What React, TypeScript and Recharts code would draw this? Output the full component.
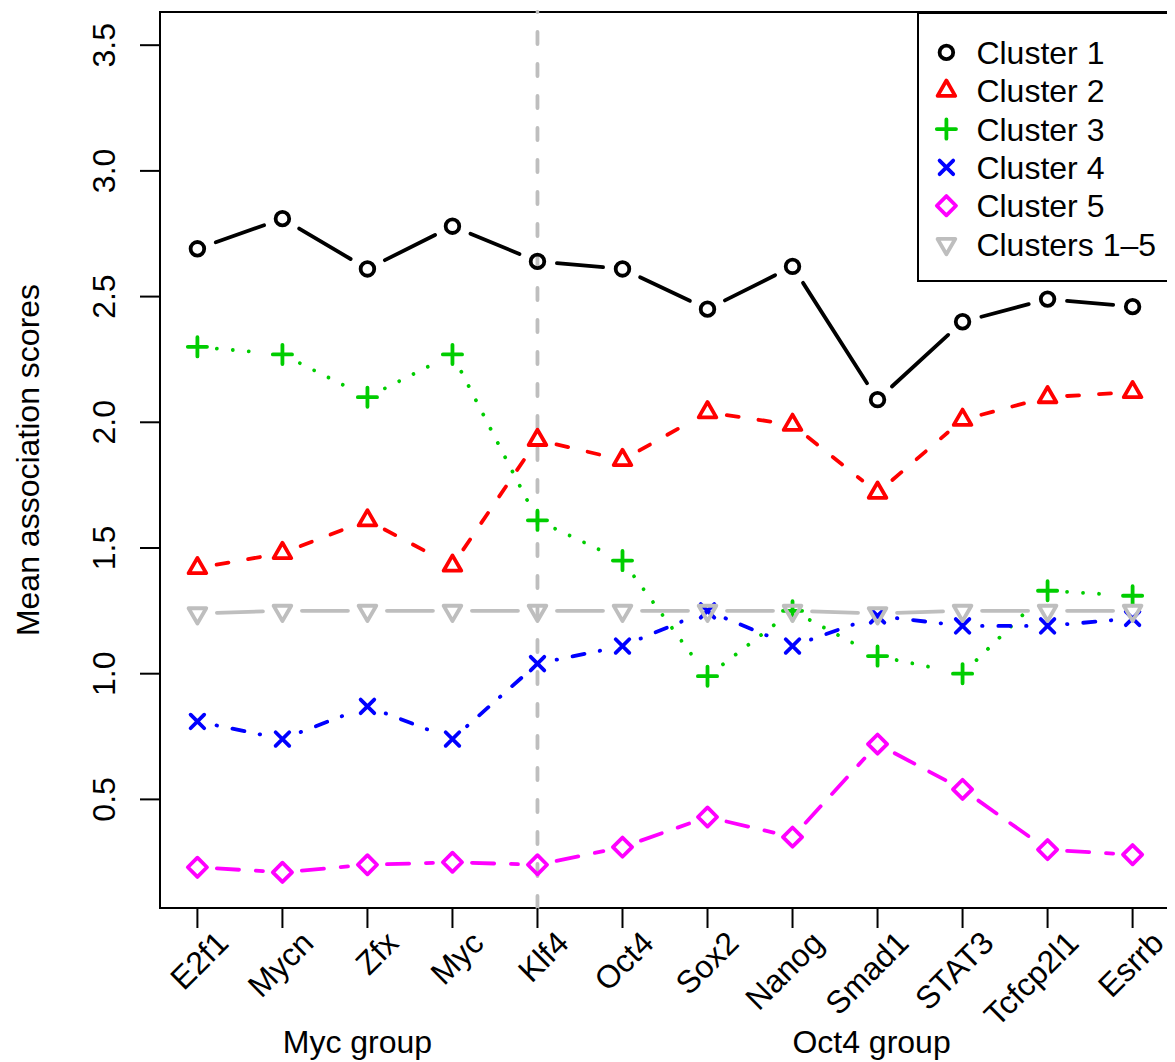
import React from 'react';
import { LineChart, Line, XAxis, YAxis, ReferenceLine, ReferenceArea } from 'recharts';

const categories = ['E2f1', 'Mycn', 'Zfx', 'Myc', 'Klf4', 'Oct4', 'Sox2', 'Nanog', 'Smad1', 'STAT3', 'Tcfcp2l1', 'Esrrb'];
const cluster1 = [2.69, 2.81, 2.61, 2.78, 2.64, 2.61, 2.45, 2.62, 2.09, 2.40, 2.49, 2.46];
const cluster2 = [1.42, 1.48, 1.61, 1.43, 1.93, 1.85, 2.04, 1.99, 1.72, 2.01, 2.10, 2.12];
const cluster3 = [2.30, 2.27, 2.10, 2.27, 1.61, 1.45, 0.99, 1.25, 1.07, 1.00, 1.33, 1.31];
const cluster4 = [0.81, 0.74, 0.87, 0.74, 1.04, 1.11, 1.25, 1.11, 1.23, 1.19, 1.19, 1.22];
const cluster5 = [0.23, 0.21, 0.24, 0.25, 0.24, 0.31, 0.43, 0.35, 0.72, 0.54, 0.30, 0.28];
const clustersAll = [1.24, 1.25, 1.25, 1.25, 1.25, 1.25, 1.25, 1.25, 1.24, 1.25, 1.25, 1.25];
const seriesLabels = ['Cluster 1', 'Cluster 2', 'Cluster 3', 'Cluster 4', 'Cluster 5', 'Clusters 1\u20135'];
const yTicks = [0.5, 1.0, 1.5, 2.0, 2.5, 3.0, 3.5];
const yLimits = [0.2, 3.5];
const groupLabels = ['Myc group', 'Oct4 group'];
const groupAnchors = ['Zfx', 'Smad1'];
const dividerAt = 'Klf4';
const yTitle = 'Mean association scores';

const FONT = "'Liberation Sans', Arial, Helvetica, sans-serif";
const FS = 32;
const LW = 3.8;
const GAP = 19.5;

const seriesValues = [cluster1, cluster2, cluster3, cluster4, cluster5, clustersAll];
const seriesStyles = [
  { key: 's0', color: '#000000', marker: 'circle', dash: undefined as string | undefined },
  { key: 's1', color: '#FF0000', marker: 'triUp', dash: '12 20' },
  { key: 's2', color: '#00CD00', marker: 'plus', dash: '0.01 16' },
  { key: 's3', color: '#0000FF', marker: 'cross', dash: '0.5 15.8 12.2 15.5' },
  { key: 's4', color: '#FF00FF', marker: 'diamond', dash: '22.2 16.8' },
  { key: 's5', color: '#BEBEBE', marker: 'triDown', dash: undefined },
];

const data = categories.map((name, i) => {
  const row: any = { pos: i + 1, name };
  seriesValues.forEach((vals, s) => {
    row[`s${s}`] = vals[i];
  });
  return row;
});

const pad = (lo: number, hi: number) => {
  const e = 0.04 * (hi - lo);
  return [lo - e, hi + e];
};
const xDomain = pad(1, categories.length);
const yDomain = pad(yLimits[0], yLimits[1]);
const xTicks = categories.map((_, i) => i + 1);

function marker(type: string, cx: number, cy: number, color: string) {
  const common: any = {
    fill: 'none',
    stroke: color,
    strokeWidth: LW,
    strokeLinejoin: 'round',
    strokeLinecap: 'round',
  };
  if (type === 'circle') return <circle cx={cx} cy={cy} r={6.8} {...common} />;
  if (type === 'triUp' || type === 'triDown') {
    const R = 10.2;
    const s = type === 'triUp' ? 1 : -1;
    const pts = [
      [cx, cy - s * R],
      [cx + 0.866 * R, cy + s * 0.5 * R],
      [cx - 0.866 * R, cy + s * 0.5 * R],
    ];
    return <polygon points={pts.map((p) => p.join(',')).join(' ')} {...common} />;
  }
  if (type === 'plus') {
    const h = 9.6;
    return <path d={`M${cx - h},${cy}H${cx + h}M${cx},${cy - h}V${cy + h}`} {...common} />;
  }
  if (type === 'cross') {
    const h = 6.8;
    return (
      <path
        d={`M${cx - h},${cy - h}L${cx + h},${cy + h}M${cx - h},${cy + h}L${cx + h},${cy - h}`}
        {...common}
      />
    );
  }
  const h = 9.6;
  return <polygon points={`${cx},${cy - h} ${cx + h},${cy} ${cx},${cy + h} ${cx - h},${cy}`} {...common} />;
}

function makeDot(style: any) {
  const seen: any[] = [];
  return (props: any) => {
    const { cx, cy, index, points } = props;
    let from: any = null;
    let to: any = null;
    if (Array.isArray(points)) {
      if (points[index + 1]) {
        from = { x: cx, y: cy };
        to = points[index + 1];
      }
    } else if (index > 0 && seen[index - 1]) {
      from = seen[index - 1];
      to = { x: cx, y: cy };
    }
    seen[index] = { x: cx, y: cy };
    let seg = null;
    if (from && to && to.x != null && to.y != null) {
      const dx = to.x - from.x;
      const dy = to.y - from.y;
      const d = Math.hypot(dx, dy);
      if (d > 2 * GAP) {
        const ux = dx / d;
        const uy = dy / d;
        seg = (
          <path
            d={`M${from.x + ux * GAP},${from.y + uy * GAP}L${to.x - ux * GAP},${to.y - uy * GAP}`}
            fill="none"
            stroke={style.color}
            strokeWidth={LW}
            strokeLinecap="round"
            strokeDasharray={style.dash}
          />
        );
      }
    }
    return (
      <g key={`dot-${style.key}-${index}`}>
        {seg}
        {marker(style.marker, cx, cy, style.color)}
      </g>
    );
  };
}

const dotRenderers = seriesStyles.map((s) => makeDot(s));

const XTick = (props: any) => {
  const { x, y, payload } = props;
  const i = Math.round(payload.value) - 1;
  const label = categories[i];
  const ax = x + 33;
  const ay = y + 17;
  const g = groupAnchors.indexOf(label);
  return (
    <g>
      <text
        x={ax}
        y={ay}
        textAnchor="end"
        transform={`rotate(-45 ${ax} ${ay})`}
        fontSize={FS}
        fontFamily={FONT}
        fill="#000"
      >
        {label}
      </text>
      {g >= 0 && (
        <text x={x + (g === 0 ? -10 : -6)} y={y + 125} textAnchor="middle" fontSize={FS} fontFamily={FONT} fill="#000">
          {groupLabels[g]}
        </text>
      )}
    </g>
  );
};

const YTick = (props: any) => {
  const { x, y, payload } = props;
  const bx = x - 25.2;
  return (
    <text
      x={bx}
      y={y}
      textAnchor="middle"
      transform={`rotate(-90 ${bx} ${y})`}
      fontSize={FS}
      fontFamily={FONT}
      fill="#000"
    >
      {Number(payload.value).toFixed(1)}
    </text>
  );
};

const YTitle = (p: any) => {
  const vb = p && p.viewBox && p.viewBox.height ? p.viewBox : { x: 92, y: 4, width: 60, height: 896 };
  const cy = vb.y + vb.height / 2;
  const bx = vb.x - 61.5;
  return (
    <text
      x={bx}
      y={cy}
      textAnchor="middle"
      transform={`rotate(-90 ${bx} ${cy})`}
      fontSize={FS}
      fontFamily={FONT}
      fill="#000"
    >
      {yTitle}
    </text>
  );
};

const LegendBox = () => (
  <svg style={{ position: 'absolute', left: 909, top: 4 }} width={256} height={272}>
    <rect x={1} y={1} width={252} height={268} fill="#fff" stroke="#000" strokeWidth={2} />
    {seriesLabels.map((lab, i) => {
      const cy = 40.4 + i * 38.33;
      return (
        <g key={lab}>
          {marker(seriesStyles[i].marker, 29.4, cy, seriesStyles[i].color)}
          <text x={59.4} y={cy + 11.5} fontSize={FS} fontFamily={FONT} fill="#000">
            {lab}
          </text>
        </g>
      );
    })}
  </svg>
);

export default function App() {
  return (
    <div style={{ position: 'relative', width: 1167, height: 1054, background: '#fff' }}>
      <LineChart width={1167} height={1054} data={data} margin={{ top: 4, right: 5, bottom: 94, left: 92 }}>
        <XAxis
          type="number"
          dataKey="pos"
          domain={xDomain}
          ticks={xTicks}
          interval={0}
          height={60}
          tickSize={20}
          tickMargin={0}
          axisLine={false}
          tickLine={{ stroke: '#000', strokeWidth: 2 }}
          tick={<XTick />}
          allowDataOverflow
        />
        <YAxis
          type="number"
          domain={yDomain}
          ticks={yTicks}
          interval={0}
          width={60}
          tickSize={20}
          tickMargin={0}
          axisLine={false}
          tickLine={{ stroke: '#000', strokeWidth: 2 }}
          tick={<YTick />}
          allowDataOverflow
          label={{ content: (p: any) => <YTitle {...p} /> }}
        />
        <ReferenceLine
          x={categories.indexOf(dividerAt) + 1}
          stroke="#BEBEBE"
          strokeWidth={LW}
          strokeDasharray="12 20"
          strokeLinecap="round"
        />
        {seriesStyles.map((s, i) => (
          <Line
            key={s.key}
            dataKey={`s${i}`}
            stroke="none"
            dot={dotRenderers[i]}
            activeDot={false}
            legendType="none"
            isAnimationActive={false}
          />
        ))}
        <ReferenceArea
          x1={xDomain[0]}
          x2={xDomain[1]}
          y1={yDomain[0]}
          y2={yDomain[1]}
          fill="none"
          fillOpacity={0}
          stroke="#000"
          strokeWidth={2}
          ifOverflow="visible"
        />
      </LineChart>
      <LegendBox />
    </div>
  );
}
